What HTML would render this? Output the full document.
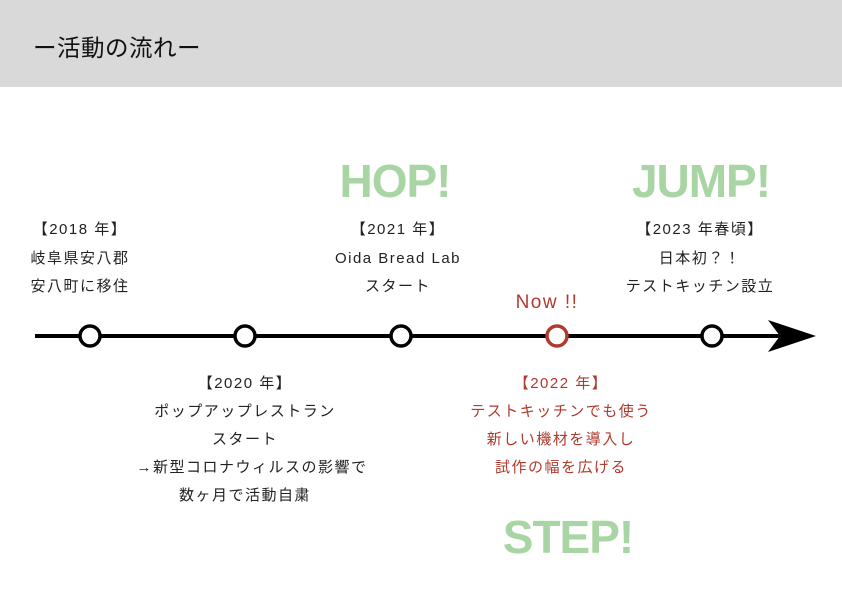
<!DOCTYPE html>
<html><head><meta charset="utf-8"><style>
html,body{margin:0;padding:0;background:#fff;}
svg{display:block}
.t{font-family:"Liberation Sans","Noto Sans CJK JP",sans-serif;font-size:15px;fill:#222;text-anchor:middle;letter-spacing:1.5px}
.r{fill:#b03a2e}
.g{font-family:"Liberation Sans",sans-serif;font-weight:bold;font-size:46px;fill:#a9d5a5;text-anchor:middle;letter-spacing:-1px}
</style></head><body>
<svg width="842" height="595" viewBox="0 0 842 595" xmlns="http://www.w3.org/2000/svg">
<rect x="0" y="0" width="842" height="87" fill="#d9d9d9"/>
<text x="33" y="56" font-family="'Liberation Sans','Noto Sans CJK JP',sans-serif" font-size="23.5" letter-spacing="0.5" fill="#111">ー活動の流れー</text>
<text class="g" x="395" y="197">HOP!</text>
<text class="g" x="701" y="197">JUMP!</text>
<text class="g" x="568" y="553">STEP!</text>
<line x1="35" y1="336" x2="790" y2="336" stroke="#000" stroke-width="4"/>
<polygon points="768,320 816,336 768,352 780,336" fill="#000"/>
<g fill="#fff" stroke-width="3.5">
<circle cx="90" cy="336" r="10" stroke="#000"/>
<circle cx="245" cy="336" r="10" stroke="#000"/>
<circle cx="401" cy="336" r="10" stroke="#000"/>
<circle cx="557" cy="336" r="10" stroke="#b03a2e"/>
<circle cx="712" cy="336" r="10" stroke="#000"/>
</g>
<text class="t" x="80" y="234">【2018 年】</text>
<text class="t" x="80" y="263">岐阜県安八郡</text>
<text class="t" x="80" y="291">安八町に移住</text>
<text class="t" x="398" y="234">【2021 年】</text>
<text class="t" x="398" y="263">Oida Bread Lab</text>
<text class="t" x="398" y="291">スタート</text>
<text class="t" x="700" y="234">【2023 年春頃】</text>
<text class="t" x="700" y="263">日本初？！</text>
<text class="t" x="700" y="291">テストキッチン設立</text>
<text class="t r" x="547" y="308" style="font-size:19px">Now !!</text>
<text class="t" x="245" y="388">【2020 年】</text>
<text class="t" x="245" y="416">ポップアップレストラン</text>
<text class="t" x="245" y="444">スタート</text>
<text class="t" x="252" y="472">→新型コロナウィルスの影響で</text>
<text class="t" x="245" y="500">数ヶ月で活動自粛</text>
<text class="t r" x="561" y="388">【2022 年】</text>
<text class="t r" x="561" y="416">テストキッチンでも使う</text>
<text class="t r" x="561" y="444">新しい機材を導入し</text>
<text class="t r" x="561" y="472">試作の幅を広げる</text>
</svg>
</body></html>
